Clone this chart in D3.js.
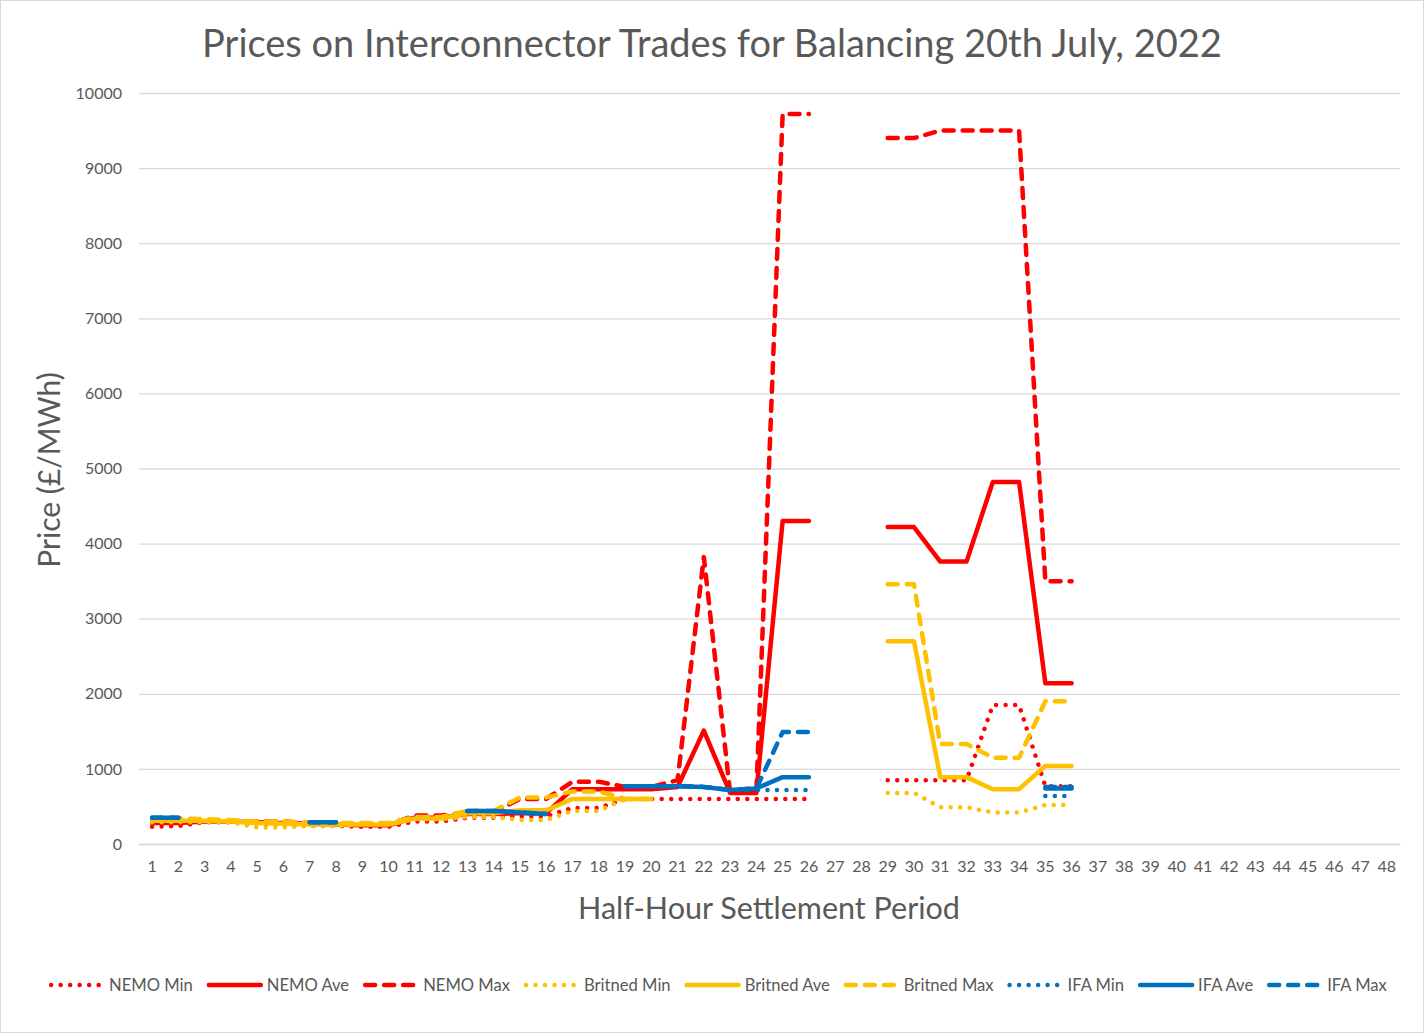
<!DOCTYPE html>
<html>
<script src="https://d3js.org/d3.v7.min.js"></script>
<style>
    body { margin: 0; background: #fff; }
    text { font-family: Lato, "Open Sans", sans-serif; fill: #595959; }
</style>
<body>
<svg width="1424" height="1033"></svg>
<script>
    // half-hour settlement periods 1..48
    const periods = d3.range(1, 49);
    const yTicks = d3.range(0, 10001, 1000);

    const N = null;
    const nemoMin = [230,240,290,290,270,260,240,240,230,230,300,300,350,350,370,370,480,480,600,600,600,600,600,600,600,600,N,N,850,850,850,850,1850,1850,770,770];
    const nemoAve = [280,280,300,300,290,280,270,260,250,250,350,350,400,400,410,410,730,730,730,730,760,1510,680,680,4300,4300,N,N,4220,4220,3760,3760,4820,4820,2140,2140];
    const nemoMax = [300,300,310,310,300,300,280,270,260,260,380,380,420,420,600,600,830,830,760,760,850,3820,690,690,9720,9720,N,N,9400,9400,9500,9500,9500,9500,3500,3500];
    const britMin = [290,290,290,290,220,220,240,240,260,260,330,330,360,360,320,320,440,440,600,600,N,N,N,N,N,N,N,N,680,680,490,490,420,420,520,520];
    const britAve = [310,310,310,300,280,270,260,260,260,260,340,340,410,410,450,450,600,600,600,600,N,N,N,N,N,N,N,N,2700,2700,890,890,730,730,1040,1040];
    const britMax = [340,340,330,320,300,300,280,280,280,280,360,360,440,440,620,620,700,700,600,600,N,N,N,N,N,N,N,N,3460,3460,1330,1330,1150,1150,1900,1900];
    const ifaMin  = [350,350,N,N,N,N,290,290,N,N,N,N,440,440,420,400,N,N,770,770,770,760,720,720,720,720,N,N,N,N,N,N,N,N,640,640];
    const ifaAve  = [350,350,N,N,N,N,290,290,N,N,N,N,440,440,420,400,N,N,770,770,770,760,720,740,890,890,N,N,N,N,N,N,N,N,740,740];
    const ifaMax  = [350,350,N,N,N,N,290,290,N,N,N,N,440,440,420,400,N,N,770,770,770,760,720,740,1490,1490,N,N,N,N,N,N,N,N,760,760];

    const red = '#ff0000', yellow = '#ffc000', blue = '#0070c0';
    const series = [
        { name: 'NEMO Min', values: nemoMin, color: red, style: 'dot' },
        { name: 'NEMO Ave', values: nemoAve, color: red, style: 'solid' },
        { name: 'NEMO Max', values: nemoMax, color: red, style: 'dash' },
        { name: 'Britned Min', values: britMin, color: yellow, style: 'dot' },
        { name: 'Britned Ave', values: britAve, color: yellow, style: 'solid' },
        { name: 'Britned Max', values: britMax, color: yellow, style: 'dash' },
        { name: 'IFA Min', values: ifaMin, color: blue, style: 'dot' },
        { name: 'IFA Ave', values: ifaAve, color: blue, style: 'solid' },
        { name: 'IFA Max', values: ifaMax, color: blue, style: 'dash' }
    ];
    const dashes = { dot: '0.01 9.5', solid: null, dash: '10 9' };

    const svg = d3.select('svg');
    svg.append('rect').attr('x', 0.5).attr('y', 0.5).attr('width', 1423).attr('height', 1032)
        .attr('fill', '#fff').attr('stroke', '#d9d9d9');

    const x = d3.scaleBand().domain(periods).range([139, 1400]);
    const y = d3.scaleLinear().domain([0, 10000]).range([844, 93]);

    // gridlines
    svg.append('g').selectAll('line').data(yTicks).enter().append('line')
        .attr('x1', 139).attr('x2', 1400)
        .attr('y1', d => y(d) + 0.5).attr('y2', d => y(d) + 0.5)
        .attr('stroke', '#d9d9d9').attr('stroke-width', 1.3);

    // y axis labels
    const yAxis = svg.append('g').attr('transform', 'translate(122,0)')
        .call(d3.axisLeft(y).tickValues(yTicks).tickSize(0).tickPadding(0).tickFormat(d3.format('d')));
    yAxis.select('.domain').remove();
    yAxis.selectAll('text').attr('font-size', 16).attr('font-family', null).attr('fill', '#595959');

    // x axis labels
    const xAxis = svg.append('g').attr('transform', 'translate(0,844)')
        .call(d3.axisBottom(x).tickSize(0).tickPadding(17));
    xAxis.select('.domain').attr('stroke', '#d9d9d9').attr('stroke-width', 1.3);
    xAxis.selectAll('text').attr('font-size', 16).attr('font-family', null).attr('fill', '#595959');

    const line = d3.line()
        .defined(d => d.v != null)
        .x(d => x(d.p) + x.bandwidth() / 2)
        .y(d => y(d.v));

    svg.append('g').selectAll('path').data(series).enter().append('path')
        .attr('d', s => line(periods.map((p, i) => ({ p: p, v: i < s.values.length ? s.values[i] : null }))))
        .attr('fill', 'none')
        .attr('stroke', s => s.color)
        .attr('stroke-width', 4.5)
        .attr('stroke-linecap', 'round')
        .attr('stroke-linejoin', 'round')
        .attr('stroke-dasharray', s => dashes[s.style]);

    svg.append('text').attr('x', 712).attr('y', 57).attr('text-anchor', 'middle')
        .attr('font-size', 38).text('Prices on Interconnector Trades for Balancing 20th July, 2022');

    svg.append('text').attr('x', 769).attr('y', 919).attr('text-anchor', 'middle')
        .attr('font-size', 30.5).text('Half-Hour Settlement Period');

    svg.append('text').attr('transform', 'translate(60,470) rotate(-90)').attr('text-anchor', 'middle')
        .attr('font-size', 30).text('Price (£/MWh)');

    // legend
    const legend = svg.append('g');
    let lx = 0;
    series.forEach(s => {
        const g = legend.append('g').attr('transform', 'translate(' + lx + ',0)');
        g.append('line').attr('x1', 2).attr('x2', 54).attr('y1', 0).attr('y2', 0)
            .attr('stroke', s.color).attr('stroke-width', 4.5).attr('stroke-linecap', 'round')
            .attr('stroke-dasharray', dashes[s.style]);
        const t = g.append('text').attr('x', 60).attr('y', 6).attr('font-size', 16.6).text(s.name);
        lx += 60 + t.node().getComputedTextLength() + 14;
    });
    legend.attr('transform', 'translate(' + (718 - (lx - 14) / 2) + ',985)');
</script>
</body>
</html>
